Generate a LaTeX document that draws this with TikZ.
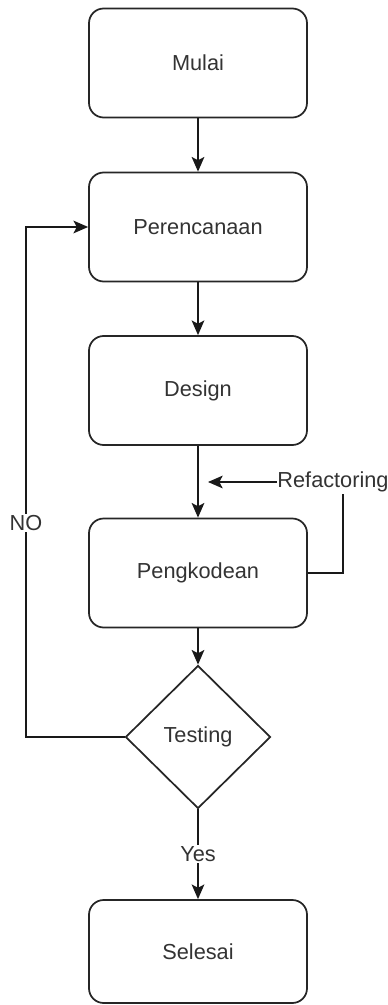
\documentclass[tikz,border=0pt]{standalone}
\usepackage{fontspec}
\setmainfont{Liberation Sans}
\usetikzlibrary{arrows.meta}
\usetikzlibrary{shapes.geometric}

\tikzset{
  box/.style={rectangle, rounded corners=11pt, draw=black!85, line width=1.3pt,
    minimum width=163.5pt, minimum height=81.75pt, text=black!80},
  decision/.style={diamond, draw=black!85, line width=1.3pt, inner sep=0pt,
    minimum width=108.75pt, minimum height=107.25pt, text=black!80},
  flow/.style={draw=black!90, line width=1.3pt, -{Stealth[length=11pt, width=9.5pt, inset=2.5pt]}},
  plain/.style={draw=black!90, line width=1.3pt},
  tag/.style={fill=white, inner sep=1pt, text=black!80}
}

\begin{document}
\begin{tikzpicture}[x=0.75pt, y=-0.75pt, font=\fontsize{16.3}{19}\selectfont]
        	\useasboundingbox (0,0) rectangle (387,1005);
        	\node [box] (mulai) at (198,63) {Mulai};
        	\node [box] (rencana) at (198,227) {Perencanaan};
        	\node [box] (desain) at (198,390.5) {Design};
        	\node [box] (kode) at (198,573) {Pengkodean};
        	\node [decision] (testing) at (198,737) {Testing};
        	\node [box, minimum height=77.25pt] (selesai) at (198,951.5) {Selesai};
        	\node [tag, inner sep=0pt] (refac) at (333,482) {Refactoring};
        	\coordinate (refacend) at (208,482);
        	\coordinate (rbend) at (343,573);
        	\coordinate (nobend) at (26,737);
        	\coordinate (notop) at (26,227);
        	\draw [flow] (mulai) -- (rencana);
        	\draw [flow] (rencana) -- (desain);
        	\draw [flow] (desain) -- (kode);
        	\draw [flow] (kode) -- (testing);
        	\draw [flow] (testing) -- node [tag] (yes) {Yes} (selesai);
        	\draw [plain] (kode.east) -- (rbend) -- ([yshift=-1.5pt]rbend |- refac.south);
        	\draw [flow] ([xshift=-0.5pt]refac.west) -- (refacend);
        	\draw [flow] (testing.west) -- (nobend) -- node [tag, pos=0.42] (no) {NO} (notop) -- (rencana.west);
        \end{tikzpicture}
\end{document}
